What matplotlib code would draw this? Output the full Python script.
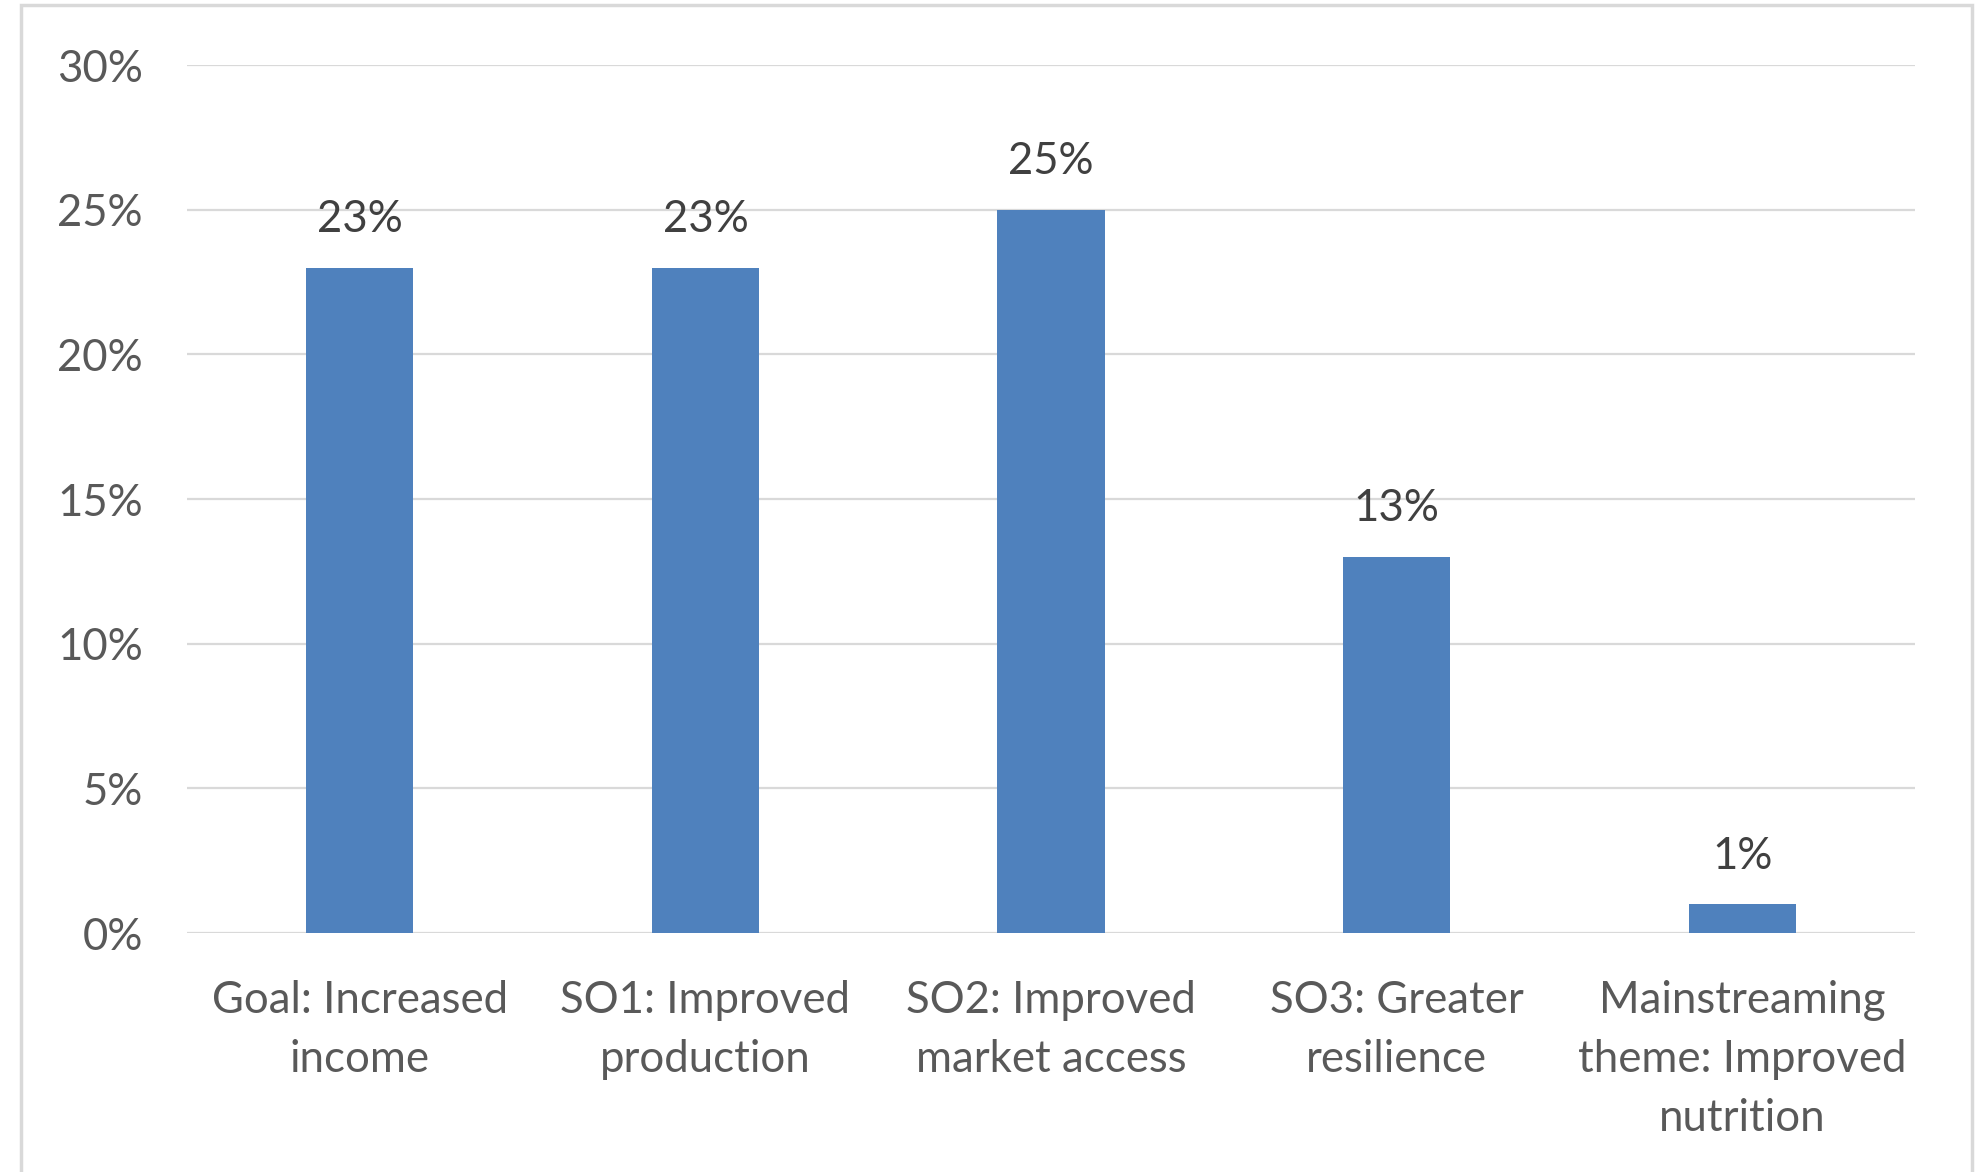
"""Share of indicators by results level, Excel-style column chart."""
import matplotlib
matplotlib.use("Agg")
import matplotlib.pyplot as plt
from matplotlib.patches import Rectangle
from matplotlib.ticker import PercentFormatter

categories = ["Goal: Increased\nincome", "SO1: Improved\nproduction",
              "SO2: Improved\nmarket access", "SO3: Greater\nresilience",
              "Mainstreaming\ntheme: Improved\nnutrition"]
shares = [0.23, 0.23, 0.25, 0.13, 0.01]
yticks = [0, 0.05, 0.10, 0.15, 0.20, 0.25, 0.30]

BLUE = "#4F81BD"
GRID = "#D9D9D9"
TXT = "#595959"
FS = 31.5

plt.rcParams["font.family"] = ["Lato", "DejaVu Sans"]

fig = plt.figure(figsize=(19.86, 11.72), dpi=100)
# light frame round the chart area (bottom edge falls outside the picture)
fig.patches.append(Rectangle((21 / 1986, -0.05), 1951 / 1986, 1.05 - 5 / 1172,
                             transform=fig.transFigure, fill=False,
                             edgecolor=GRID, linewidth=2.5))

ax = fig.add_axes([0.0942, 0.2039, 0.8700, 0.7406])
x = range(len(categories))
bars = ax.bar(x, shares, width=0.31, color=BLUE, zorder=3)
for b, v in zip(bars, shares):
    ax.text(b.get_x() + b.get_width() / 2, v + 0.0095, f"{v:.0%}",
            ha="center", va="bottom", fontsize=FS, color="#404040")

ax.set_xlim(-0.5, len(categories) - 0.5)
ax.set_ylim(0, 0.30)
ax.set_yticks(yticks)
ax.yaxis.set_major_formatter(PercentFormatter(1.0, decimals=0))
ax.set_xticks(list(x))
ax.set_xticklabels(categories, linespacing=1.54)
ax.tick_params(axis="y", length=0, pad=32, labelsize=FS, labelcolor=TXT)
ax.tick_params(axis="x", length=0, pad=34, labelsize=FS, labelcolor=TXT)
ax.grid(axis="y", color=GRID, linewidth=1.6, zorder=0)
for s in ax.spines.values():
    s.set_visible(False)

fig.savefig("out.png", dpi=100)
